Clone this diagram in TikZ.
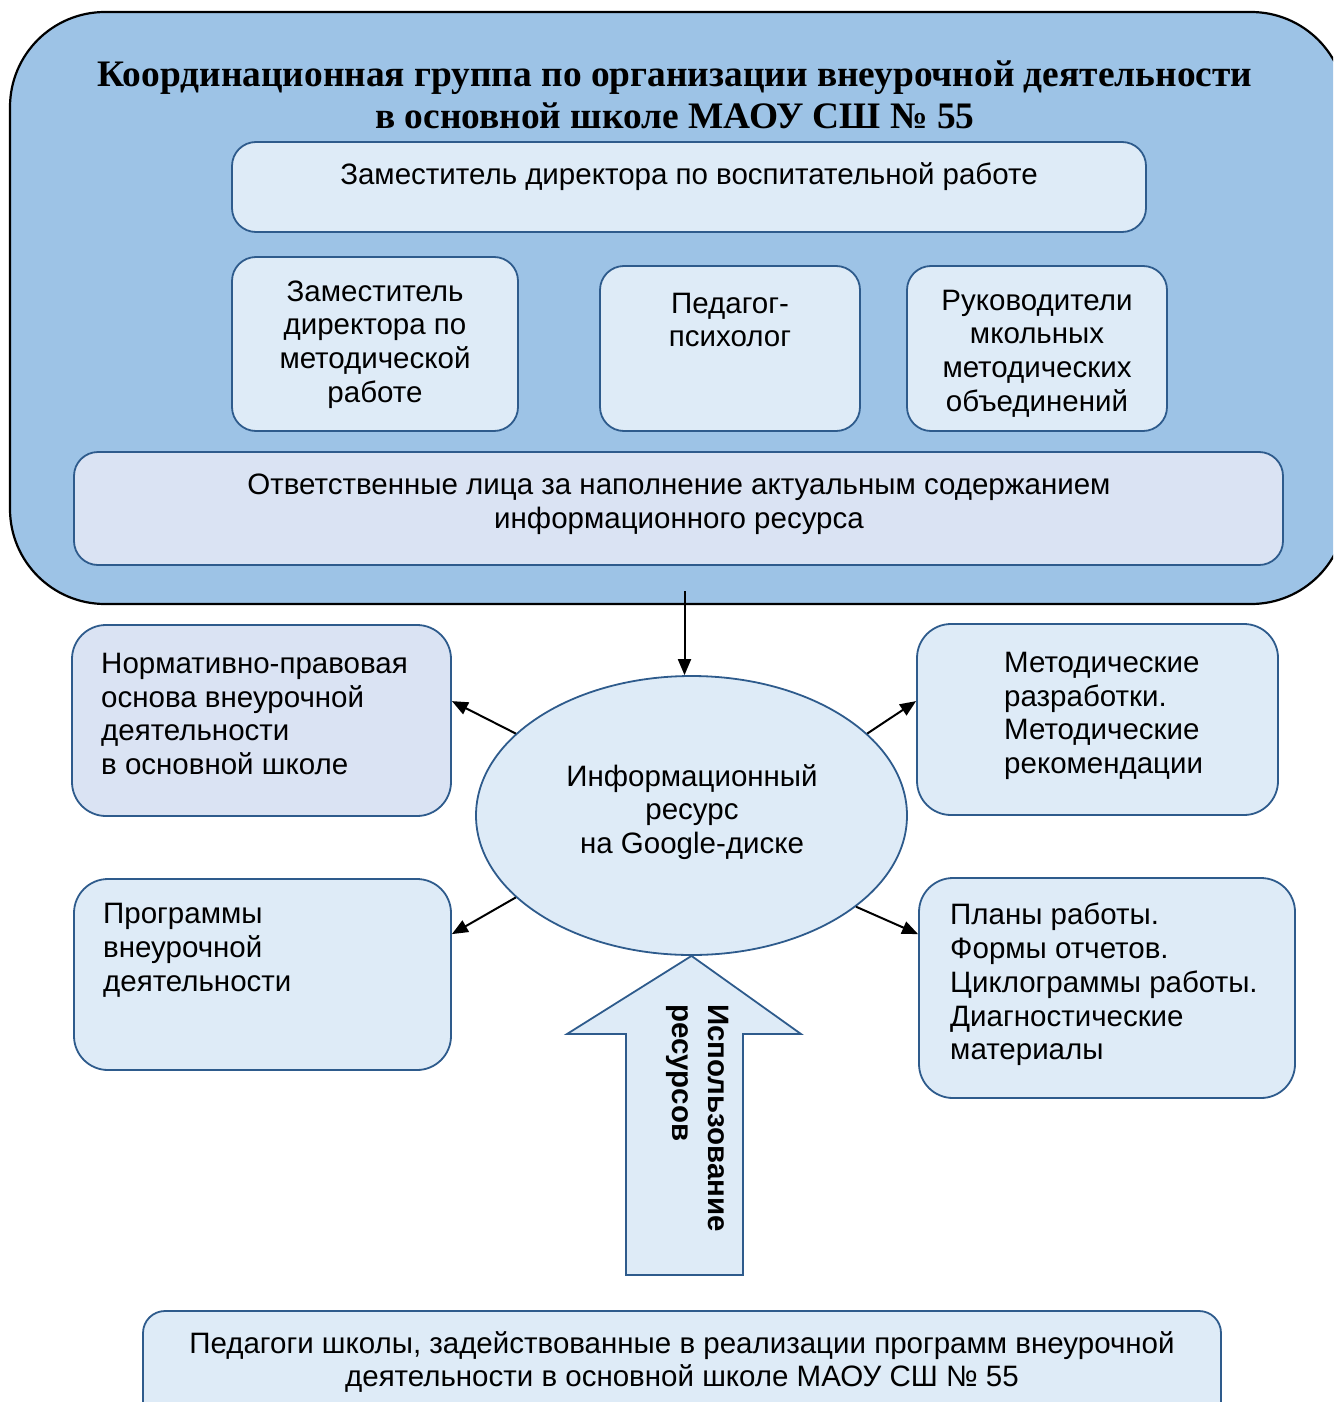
\documentclass[tikz,border=0pt]{standalone}
\usepackage{fontspec}
\setmainfont{Liberation Sans}
\newfontfamily\titlefont{Liberation Serif}
\usetikzlibrary{shapes.geometric,arrows.meta,calc}
\definecolor{outerfill}{HTML}{9DC3E6}
\definecolor{boxfill}{HTML}{DEEBF7}
\definecolor{boxfillb}{HTML}{DAE3F3}
\definecolor{boxline}{HTML}{2E5B8C}
\begin{document}
\begin{tikzpicture}[x=1pt,y=-1pt,
  box/.style={draw=boxline, line width=1.8pt, fill=boxfill, rounded corners=24pt, inner sep=0pt},
  sidebox/.style={box, rounded corners=34pt},
  txt/.style={inner sep=0pt, align=center, font=\fontsize{29.5}{33.8}\selectfont},
  ltxt/.style={inner sep=0pt, align=left, anchor=west, font=\fontsize{29.5}{33.8}\selectfont},
  conn/.style={line width=2pt, -{Triangle[length=16pt,width=13pt]}}]
\useasboundingbox (0,0) rectangle (1333,1402);
\clip (0,0) rectangle (1333,1402);
% outer container
\node[draw=black, line width=2.2pt, fill=outerfill, rounded corners=95pt, inner sep=0pt,
  minimum width=1336pt, minimum height=592pt] (kg) at (678,308) {};
\node[inner sep=0pt, align=center, font=\titlefont\bfseries\fontsize{37.4}{42}\selectfont] (title) at (675,95)
  {Координационная группа по организации внеурочной деятельности\\в основной школе МАОУ СШ № 55};
% inner boxes
\node[box, minimum width=914pt, minimum height=90pt] (zvr) at (689,187) {};
\node[txt] at (689,177) {Заместитель директора по воспитательной работе};
\node[box, minimum width=286pt, minimum height=174pt] (zmr) at (375,344) {};
\node[txt] at (375,344.5) {Заместитель\\директора по\\методической\\работе};
\node[box, minimum width=260pt, minimum height=165pt] (psy) at (730,348.5) {};
\node[txt] at (730,320) {Педагог-\\психолог};
\node[box, minimum width=260pt, minimum height=165pt] (rmo) at (1037,348.5) {};
\node[txt] at (1037,353.5) {Руководители\\мкольных\\методических\\объединений};
\node[box, fill=boxfillb, minimum width=1209pt, minimum height=113pt] (otv) at (678.5,508.5) {};
\node[txt] at (679,504.5) {Ответственные лица за наполнение актуальным содержанием\\информационного ресурса};
% central ellipse
\node[ellipse, draw=boxline, line width=1.8pt, fill=boxfill, inner sep=0pt,
  minimum width=431pt, minimum height=279pt] (ell) at (691.5,815.5) {};
\node[txt] at (692,812) {Информационный\\ресурс\\на Google-диске};
% side boxes
\node[sidebox, fill=boxfillb, minimum width=379pt, minimum height=191pt] (npo) at (261.5,720.5) {};
\node[ltxt] at (101,714) {Нормативно-правовая\\основа внеурочной\\деятельности\\в основной школе};
\node[sidebox, minimum width=361pt, minimum height=191pt] (mr) at (1097.5,719.5) {};
\node[ltxt] at (1004,716) {Методические\\разработки.\\Методические\\рекомендации};
\node[sidebox, minimum width=377pt, minimum height=191pt] (prg) at (262.5,974.5) {};
\node[ltxt] at (103,950.5) {Программы\\внеурочной\\деятельности};
\node[sidebox, minimum width=376pt, minimum height=220pt] (pl) at (1107,988) {};
\node[ltxt] at (950,984.5) {Планы работы.\\Формы отчетов.\\Циклограммы работы.\\Диагностические\\материалы};
% bottom box
\node[box, rounded corners=22pt, minimum width=1078pt, minimum height=120pt] (ped) at (682,1371) {};
\node[txt] at (682,1362) {Педагоги школы, задействованные в реализации программ внеурочной\\деятельности в основной школе МАОУ СШ № 55};
% big arrow
\draw[draw=boxline, line width=1.8pt, fill=boxfill, line join=miter]
  (ell.south) -- (801,1034) -- (743,1034) -- (743,1275) -- (626,1275) -- (626,1034) -- (567,1034) -- cycle;
\node[rotate=-90, anchor=north west, inner sep=0pt, align=left,
  font=\bfseries\fontsize{29.5}{36}\selectfont] (use) at (729,1004) {Использование\\ресурсов};
% connectors
\draw[conn] ($(kg.south -| ell.north)+(-7,-14)$) -- ($(ell.north)+(-7,0)$);
\draw[conn] (ell.155) -- ($(npo.north east)+(0,77)$);
\draw[conn] (ell.25) -- ($(mr.north west)+(0,78)$);
\draw[conn] (ell.205) -- ($(prg.north east)+(0,56)$);
\draw[conn] (ell.331) -- ($(pl.north west)+(0,57)$);
\end{tikzpicture}
\end{document}
